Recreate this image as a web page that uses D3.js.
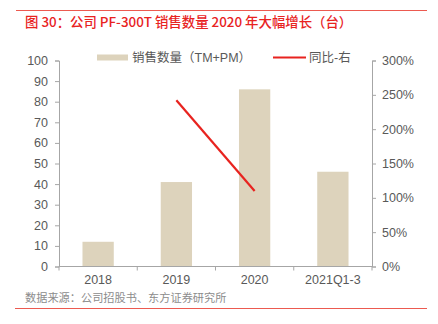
<!DOCTYPE html>
<html>
<head>
<meta charset="utf-8">
<script src="https://cdn.jsdelivr.net/npm/d3@7/dist/d3.min.js"></script>
<style>
  html, body { margin: 0; padding: 0; background: #fff; }
  svg { display: block; font-family: "Liberation Sans", Arial, "Noto Sans CJK SC", sans-serif; }
</style>
</head>
<body>
<svg id="chart" width="438" height="324"></svg>
<script>
// Annual PF-300T unit sales and year-on-year growth
const categories = ["2018", "2019", "2020", "2021Q1-3"];
const salesUnits = [12, 41, 86, 46];
const yoyGrowth = [null, 242, 110, null];   // percent, right axis
const leftTicks = [0, 10, 20, 30, 40, 50, 60, 70, 80, 90, 100];
const rightTicks = [0, 50, 100, 150, 200, 250, 300];

const svg = d3.select("#chart");
const m = { left: 59, right: 372, top: 60.5, bottom: 266.5 };

const red = "#e8231f";
const axisColor = "#a6a6a6";
const textColor = "#595959";
const barColor = "#ddd3bc";

// frame lines and title
svg.append("line").attr("x1", 16).attr("x2", 427).attr("y1", 10.5).attr("y2", 10.5)
  .attr("stroke", "#ec5a50").attr("stroke-width", 1);
svg.append("text").attr("x", 25).attr("y", 27)
  .attr("fill", red).attr("font-size", 13.4).attr("font-weight", 500)
  .attr("font-family", "'Noto Sans CJK SC', sans-serif")
  .text("图 30：公司 PF-300T 销售数量 2020 年大幅增长（台）");

svg.append("line").attr("x1", 15).attr("x2", 427).attr("y1", 308.5).attr("y2", 308.5)
  .attr("stroke", "#ec5a50").attr("stroke-width", 1);
svg.append("text").attr("x", 25).attr("y", 301.5)
  .attr("fill", "#8c8c8c").attr("font-size", 11.2)
  .attr("font-family", "'Noto Sans CJK SC', sans-serif")
  .text("数据来源：公司招股书、东方证券研究所");

// scales
const x = d3.scaleBand().domain(categories).range([m.left, m.right]).paddingInner(0.6).paddingOuter(0.3);
const xPoint = d => x(d) + x.bandwidth() / 2;
const y = d3.scaleLinear().domain([0, 100]).range([m.bottom, m.top]);
const y2 = d3.scaleLinear().domain([0, 300]).range([m.bottom, m.top]);

// bars
svg.append("g").selectAll("rect").data(categories).join("rect")
  .attr("x", d => x(d))
  .attr("width", x.bandwidth())
  .attr("y", (d, i) => y(salesUnits[i]))
  .attr("height", (d, i) => y(0) - y(salesUnits[i]))
  .attr("fill", barColor);

// growth line
const lineData = categories.map((c, i) => ({ c, v: yoyGrowth[i] })).filter(d => d.v != null);
svg.append("path").datum(lineData)
  .attr("fill", "none").attr("stroke", red).attr("stroke-width", 2.2)
  .attr("d", d3.line().x(d => xPoint(d.c)).y(d => y2(d.v)));

// axes
function styleAxis(g) {
  g.selectAll(".domain").attr("stroke", axisColor);
  g.selectAll(".tick line").attr("stroke", axisColor);
  g.selectAll(".tick text").attr("fill", textColor).attr("font-size", 12.5)
    .attr("font-family", "'Liberation Sans', Arial, sans-serif");
}

svg.append("g").attr("transform", `translate(${m.left},0)`)
  .call(d3.axisLeft(y).tickValues(leftTicks).tickSize(4).tickPadding(7).tickSizeOuter(4))
  .call(styleAxis);

svg.append("g").attr("transform", `translate(${m.right},0)`)
  .call(d3.axisRight(y2).tickValues(rightTicks).tickSize(4).tickPadding(6).tickFormat(d => d + "%"))
  .call(styleAxis);

const xAxis = svg.append("g").attr("transform", `translate(0,${m.bottom})`)
  .call(d3.axisBottom(x).tickSize(0).tickPadding(9))
  .call(styleAxis);
xAxis.selectAll(".domain").attr("d", `M${m.left},0H${m.right}`);
// category boundary ticks
const bounds = categories.map(c => x(c) - x.step() * x.paddingInner() / 2).concat([m.right]);
xAxis.selectAll(".bound").data(bounds).join("line")
  .attr("x1", d => d).attr("x2", d => d).attr("y1", 0).attr("y2", 4)
  .attr("stroke", axisColor);

// legend
const lg = svg.append("g");
lg.append("rect").attr("x", 97).attr("y", 54.5).attr("width", 31).attr("height", 6).attr("fill", barColor);
lg.append("text").attr("x", 132).attr("y", 62).attr("fill", textColor).attr("font-size", 12.5)
  .attr("font-family", "'Liberation Sans', Arial, 'Noto Sans CJK SC', sans-serif")
  .text("销售数量（TM+PM）");
lg.append("line").attr("x1", 273).attr("x2", 306).attr("y1", 57.5).attr("y2", 57.5)
  .attr("stroke", red).attr("stroke-width", 2.2);
lg.append("text").attr("x", 309).attr("y", 62).attr("fill", textColor).attr("font-size", 12.5)
  .attr("font-family", "'Liberation Sans', Arial, 'Noto Sans CJK SC', sans-serif")
  .text("同比-右");
</script>
</body>
</html>
